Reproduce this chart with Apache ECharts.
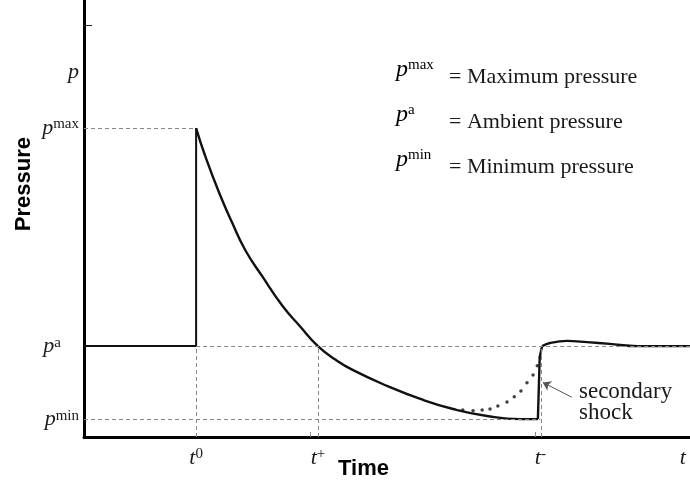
<!DOCTYPE html>
<html>
<head>
<meta charset="utf-8">
<script src="https://cdn.jsdelivr.net/npm/echarts@6/dist/echarts.min.js"></script>
<style>
  html, body { margin: 0; padding: 0; background: #fff; }
  #chart { width: 690px; height: 488px; }
</style>
</head>
<body>
<div id="chart"></div>
<script>
// 特征压力与时间 (arbitrary units, axes run 0..10)
const pMax = 7.07, pAmb = 2.08, pMin = 0.41
const tZero = 1.85, tPlus = 3.86, tMinus = 7.53, tEnd = 9.88

// y axis labels
const yLabelValues = [8.35, pMax, pAmb, pMin]
const yLabelSup = ['', 'max', 'a', 'min']
// x axis labels
const xLabelValues = [tZero, tPlus, tMinus, tEnd]
const xLabelSup = ['0', '+', '-', '']

// before arrival: ambient, then the jump to peak
const riseTime = [0, tZero, tZero]
const risePressure = [pAmb, pAmb, pMax]
// positive phase decay and negative phase
const decayTime = [1.85, 2.00, 2.23, 2.44, 2.66, 2.94, 3.28, 3.56, 3.86, 4.16, 4.44, 5.00, 5.55, 6.09, 6.65, 7.20, 7.49]
const decayPressure = [7.07, 6.43, 5.59, 4.92, 4.28, 3.68, 2.99, 2.54, 2.08, 1.76, 1.53, 1.17, 0.87, 0.64, 0.48, 0.41, 0.41]
// secondary shock
const shockTime = [7.49, 7.52, 7.56]
const shockPressure = [0.41, 1.83, 2.08]
// recovery to ambient
const recoveryTime = [7.56, 7.69, 7.97, 8.30, 8.68, 9.13, 10]
const recoveryPressure = [2.08, 2.15, 2.20, 2.17, 2.13, 2.08, 2.08]
// dotted alternative (no secondary shock)
const dottedTime = [6.25, 6.42, 6.57, 6.70, 6.83, 6.98, 7.10, 7.21, 7.31, 7.41, 7.48, 7.53]
const dottedPressure = [0.62, 0.60, 0.62, 0.64, 0.71, 0.80, 0.92, 1.05, 1.24, 1.42, 1.63, 1.83]

// legend rows
const legendSup = ['max', 'a', 'min']
const legendText = ['= Maximum pressure', '= Ambient pressure', '= Minimum pressure']

const zip = (xs, ys) => xs.map((x, i) => [x, ys[i]])
// customValues 的 formatter 里按数值找下标
const nearest = (arr, v) => {
  let k = 0
  arr.forEach((a, i) => { if (Math.abs(a - v) < Math.abs(arr[k] - v)) k = i })
  return k
}

const serif = 'Liberation Serif, Times New Roman, serif'
const richLabel = {
  p: { fontFamily: serif, fontStyle: 'italic', fontSize: 22, lineHeight: 22, color: '#1a1a1a', verticalAlign: 'bottom' },
  sup: { fontFamily: serif, fontSize: 15, lineHeight: 15, color: '#1a1a1a', verticalAlign: 'top' },
  gap: { width: 18 }
}
const richLegend = {
  p: { fontFamily: serif, fontStyle: 'italic', fontSize: 24, lineHeight: 24, color: '#1a1a1a', verticalAlign: 'bottom' },
  sup: { fontFamily: serif, fontSize: 15, lineHeight: 15, color: '#1a1a1a', verticalAlign: 'top' }
}

const lineStyle = { color: '#111', width: 2.4 }
const dash = { color: '#888', width: 1, type: [4, 3] }

const chart = echarts.init(document.getElementById('chart'))

const option = {
  animation: false,
  backgroundColor: '#fff',
  grid: { left: 84, right: 0, top: 0, bottom: 51, outerBoundsMode: 'none' },
  xAxis: {
    type: 'value', min: 0, max: 10,
    splitLine: { show: false },
    axisLine: { lineStyle: { color: '#000', width: 3 } },
    axisTick: { customValues: [3.73, 7.44], inside: true, length: 5, lineStyle: { color: '#888', width: 1 } },
    axisLabel: {
      customValues: xLabelValues,
      margin: 10,
      formatter: function (v) {
        const s = xLabelSup[nearest(xLabelValues, v)]
        return s ? '{p|t}{sup|' + s + '}' : '{p|t}'
      },
      rich: richLabel
    }
  },
  yAxis: {
    type: 'value', min: 0, max: 10,
    splitLine: { show: false },
    axisLine: { lineStyle: { color: '#000', width: 3 } },
    axisTick: { customValues: [9.43], inside: true, length: 8, lineStyle: { color: '#222', width: 1 } },
    axisLabel: {
      customValues: yLabelValues,
      margin: 5,
      formatter: function (v) {
        const s = yLabelSup[nearest(yLabelValues, v)]
        if (!s) return '{p|p}'
        // p^a 与其它标签左对齐
        return s === 'a' ? '{p|p}{sup|a}{gap|}' : '{p|p}{sup|' + s + '}'
      },
      rich: richLabel
    }
  },
  graphic: [
    { type: 'text', left: 13, top: 137, rotation: Math.PI / 2,
      style: { text: 'Pressure', font: 'bold 22px Liberation Sans, Arial, sans-serif', fill: '#000' } },
    { type: 'text', left: 338, top: 458,
      style: { text: 'Time', font: 'bold 22px Liberation Sans, Arial, sans-serif', fill: '#000' } },
    { type: 'text', left: 579, top: 380,
      style: { text: 'secondary\nshock', font: '23px Liberation Serif, Times New Roman, serif', lineHeight: 21, fill: '#1a1a1a' } }
  ].concat(legendSup.map(function (s, i) {
    return { type: 'text', left: 396, top: 58 + i * 45,
      style: { text: '{p|p}{sup|' + s + '}', rich: richLegend } }
  })).concat(legendText.map(function (s, i) {
    return { type: 'text', left: 449, top: 66 + i * 45,
      style: { text: s, font: '22px Liberation Serif, Times New Roman, serif', fill: '#1a1a1a' } }
  })),
  series: [
    {
      type: 'line', data: zip(riseTime, risePressure), symbol: 'none', lineStyle: { color: '#111', width: 2 },
      markLine: {
        silent: true, symbol: 'none', label: { show: false }, lineStyle: dash,
        data: [
          [{ coord: [0, pMax] }, { coord: [tZero, pMax] }],
          [{ coord: [tZero, pAmb] }, { coord: [10, pAmb] }],
          [{ coord: [0, pMin] }, { coord: [tMinus, pMin] }],
          [{ coord: [tZero, 0] }, { coord: [tZero, pAmb] }],
          [{ coord: [tPlus, 0] }, { coord: [tPlus, pAmb] }],
          [{ coord: [tMinus + 0.02, 0] }, { coord: [tMinus + 0.02, pAmb] }]
        ]
      }
    },
    { type: 'line', data: zip(decayTime, decayPressure), symbol: 'none', smooth: 0.5, lineStyle: lineStyle },
    {
      type: 'line', data: zip(shockTime, shockPressure), symbol: 'none', lineStyle: lineStyle,
      markLine: {
        silent: true, symbol: ['none', 'arrow'], symbolSize: 8, label: { show: false },
        lineStyle: { color: '#555', width: 1, type: 'solid' },
        data: [[{ coord: [8.05, 0.91] }, { coord: [7.57, 1.25] }]]
      }
    },
    { type: 'line', data: zip(recoveryTime, recoveryPressure), symbol: 'none', smooth: 0.4, lineStyle: lineStyle },
    { type: 'scatter', data: zip(dottedTime, dottedPressure), symbol: 'circle', symbolSize: 3.5, itemStyle: { color: '#111' } }
  ]
}

chart.setOption(option)
</script>
</body>
</html>
